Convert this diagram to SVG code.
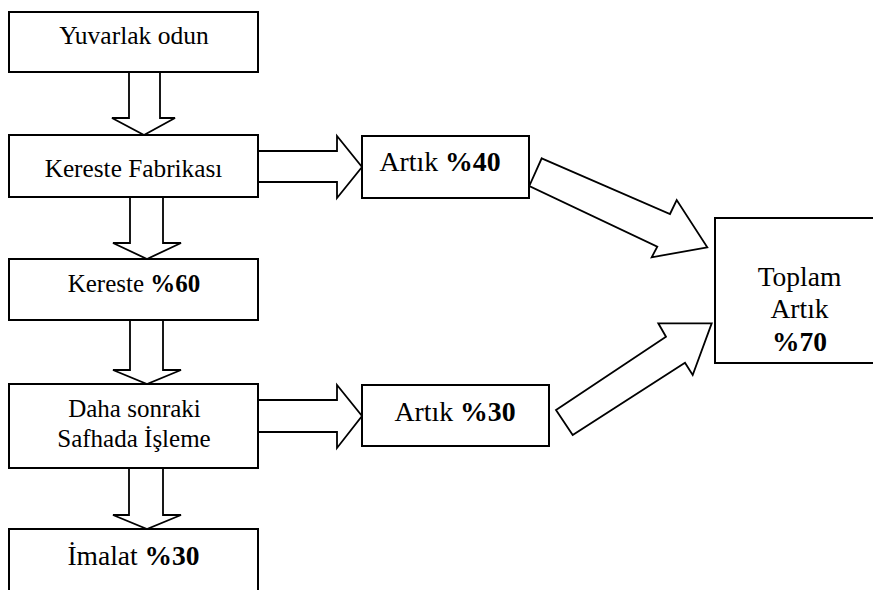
<svg xmlns="http://www.w3.org/2000/svg" width="873" height="590" viewBox="0 0 873 590">
<style>
.box{fill:#fff;stroke:#000;stroke-width:2}
.arr{fill:#fff;stroke:#000;stroke-width:1.8;stroke-linejoin:miter}
.b{font-weight:bold}
</style>
<rect width="873" height="590" fill="#fff"/>
<g id="connectors">
<polygon class="arr" points="129,72 160,72 160,118 175,118 144,135 112,118 129,118"/>
<polygon class="arr" points="130,197 163,197 163,243 181,243 147,259 113,243 130,243"/>
<polygon class="arr" points="130,320 163,320 163,370 181,370 147,384 113,370 130,370"/>
<polygon class="arr" points="129,468 163,468 163,515 181,515 147,529 113,515 129,515"/>
<polygon class="arr" points="258,151 337,151 337,136 362,167 337,198 337,182 258,182"/>
<polygon class="arr" points="258,400 337,400 337,385 362,416 337,448 337,432 258,432"/>
<polygon class="arr" points="541.7,158.3 670,214 676.7,200 707.3,247.3 651.7,257.3 657.3,246.7 529.3,186"/>
<polygon class="arr" points="572.7,435 556,410 666,336.7 658.3,323.3 711.7,323.3 692.7,375 685,362.7"/>
</g>
<g font-family="'Liberation Serif', 'Times New Roman', serif" text-anchor="middle" fill="#000">
<g id="n1"><rect class="box" x="9" y="12" width="249" height="60"/><text x="134" y="44" font-size="25.5">Yuvarlak odun</text></g>
<g id="n2"><rect class="box" x="9" y="135" width="249" height="62"/><text x="133.5" y="177" font-size="25.3">Kereste Fabrikası</text></g>
<g id="n3"><rect class="box" x="362" y="136" width="167" height="62"/><text x="440" y="171" font-size="27.8">Artık <tspan class="b">%40</tspan></text></g>
<g id="n4"><rect class="box" x="9" y="259" width="249" height="61"/><text x="134" y="292" font-size="25">Kereste <tspan class="b">%60</tspan></text></g>
<g id="n5"><rect class="box" x="9" y="384" width="249" height="84"/><text x="134.5" y="417" font-size="25">Daha sonraki</text><text x="134" y="447" font-size="25">Safhada İşleme</text></g>
<g id="n6"><rect class="box" x="362" y="385" width="187" height="61"/><text x="455" y="421" font-size="27.8">Artık <tspan class="b">%30</tspan></text></g>
<g id="n7"><rect class="box" x="9" y="529" width="249" height="80"/><text x="133.5" y="565" font-size="27.5">İmalat <tspan class="b">%30</tspan></text></g>
<g id="n8"><rect class="box" x="715" y="218" width="170" height="145"/><text x="799.5" y="286" font-size="27.5">Toplam</text><text x="799.5" y="318" font-size="27.5">Artık</text><text x="799.5" y="351" font-size="27.5" class="b">%70</text></g>
</g>
</svg>
